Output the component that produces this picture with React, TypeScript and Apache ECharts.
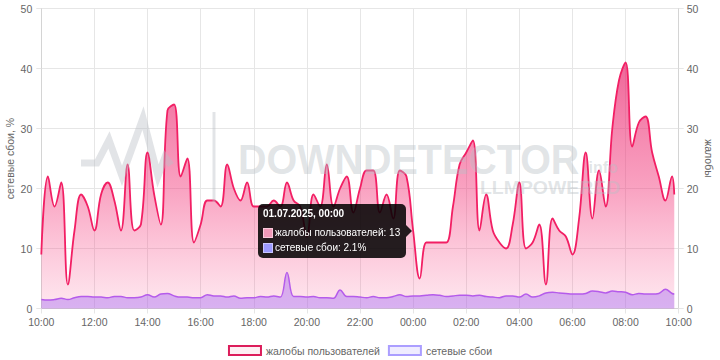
import React, { useEffect, useRef } from "react";
import * as echarts from "echarts";

// ---- data ----
const START_UTC = Date.UTC(2025, 5, 30, 10, 0); // 30.06.2025 10:00
const STEP_MINUTES = 15;
const LAST_POINT_MINUTES = 23 * 60 + 50; // 01.07.2025 09:50
const TOOLTIP_INDEX = 56; // 01.07.2025 00:00

const complaintsName = "жалобы пользователей";
const failuresName = "сетевые сбои";
const leftAxisName = "сетевые сбои, %";
const rightAxisName = "жалобы";

const xTickLabels = [
  "10:00", "12:00", "14:00", "16:00", "18:00", "20:00", "22:00",
  "00:00", "02:00", "04:00", "06:00", "08:00", "10:00",
];

const complaints = [
  9, 22, 17, 21, 4, 13, 19, 17,
  13, 19, 21, 18, 13, 24, 13, 14,
  26, 19, 14, 33, 34, 22, 25, 11,
  14, 18, 18, 17, 24, 20, 18, 21,
  17, 17, 17, 18, 17, 21, 18, 17,
  12, 19, 17, 24, 17, 20, 22, 16,
  20, 23, 23, 16, 19, 15, 23, 22,
  13, 5, 11, 11, 11, 11, 17, 24,
  26, 28, 13, 19, 13, 11, 10, 14,
  21, 10, 11, 14, 4, 15, 13, 12,
  9, 15, 26, 15, 23, 17, 30, 38,
  41, 27, 31, 32, 26, 22, 18, 22,
  19,
];

const failures = [
  1.5, 1.4, 1.5, 1.7, 1.5, 1.8, 2.0, 2.0,
  1.9, 1.9, 1.8, 2.0, 2.0, 1.8, 1.8, 1.9,
  2.3, 1.9, 2.4, 2.5, 2.1, 1.9, 1.9, 1.8,
  1.8, 2.3, 2.1, 2.1, 1.9, 2.1, 1.7, 1.8,
  1.8, 2.0, 1.9, 2.1, 1.9, 6.0, 2.0, 2.0,
  1.9, 2.0, 1.8, 1.8, 1.7, 3.1, 2.0, 2.0,
  1.9, 1.8, 2.0, 1.8, 1.8, 2.0, 2.3, 2.0,
  2.1, 2.1, 2.2, 2.3, 2.2, 2.0, 2.1, 2.2,
  2.2, 2.1, 2.2, 2.0, 1.9, 1.8, 2.1, 2.1,
  1.9, 2.4, 1.9, 2.1, 2.6, 2.7, 2.6, 2.5,
  2.4, 2.4, 2.5, 2.9, 2.8, 2.6, 2.9, 2.8,
  2.7, 2.3, 2.5, 2.4, 2.4, 2.5, 3.2, 2.5,
  2.4,
];

// ---- helpers ----
const minutes = complaints.map((_, i) =>
  i < complaints.length - 1 ? i * STEP_MINUTES : LAST_POINT_MINUTES
);
const pad = (n: number) => String(n).padStart(2, "0");
const formatStamp = (m: number) => {
  const d = new Date(START_UTC + m * 60000);
  return `${pad(d.getUTCDate())}.${pad(d.getUTCMonth() + 1)}.${d.getUTCFullYear()}, ${pad(
    d.getUTCHours()
  )}:${pad(d.getUTCMinutes())}`;
};

const FONT = "'Liberation Sans', Arial, Helvetica, sans-serif";
const GRID_COLOR = "#e6e6e6";
const AXIS_COLOR = "#d4d4d4";
const LABEL_COLOR = "#666";
const PINK = "#dc1d5b";
const PURPLE = "#a553d6";
const WM = "rgba(185,191,198,0.42)";

const tooltipHtml = (idx: number) => {
  const row = (bg: string, border: string, text: string) =>
    `<div style="display:flex;align-items:center;height:15px;line-height:15px;white-space:nowrap">` +
    `<span style="display:inline-block;box-sizing:border-box;width:10px;height:10px;background:${bg};border:1px solid ${border};margin-right:2px"></span>${text}</div>`;
  return (
    `<div style="font-weight:bold;line-height:14px;margin-bottom:4px;white-space:nowrap">${formatStamp(
      minutes[idx]
    )}</div>` +
    row("#f09ab9", "#f9c9da", `${complaintsName}: ${complaints[idx]}`) +
    row("#9c9aff", "#c9c6ff", `${failuresName}: ${failures[idx]}%`) +
    `<div style="position:absolute;right:-6px;top:50%;margin-top:-6px;width:0;height:0;border-top:6px solid transparent;border-bottom:6px solid transparent;border-left:6px solid rgba(0,0,0,0.86)"></div>`
  );
};

const buildOption = () => ({
  animation: false,
  textStyle: { fontFamily: FONT },
  grid: {
    left: 41.3,
    right: 41.3,
    top: 8.5,
    bottom: 51.5,
    containLabel: false,
    outerBoundsMode: "none",
  },
  tooltip: {
    trigger: "axis",
    triggerOn: "none",
    alwaysShowContent: true,
    transitionDuration: 0,
    axisPointer: { type: "none" },
    backgroundColor: "rgba(0,0,0,0.86)",
    borderWidth: 0,
    padding: [3, 6, 3, 5],
    textStyle: { color: "#fff", fontSize: 10, fontFamily: FONT },
    extraCssText: "border-radius:5px;box-shadow:none;",
    position: (point: number[], _p: any, _d: any, _r: any, size: any) => [
      point[0] - size.contentSize[0] - 7,
      point[1] - size.contentSize[1] / 2,
    ],
    formatter: (params: any) => {
      const p = Array.isArray(params) ? params : [params];
      return tooltipHtml(p[0].dataIndex);
    },
  },
  legend: {
    left: "center",
    top: 340,
    icon: "rect",
    itemWidth: 32,
    itemHeight: 9,
    itemGap: 8,
    textStyle: { color: LABEL_COLOR, fontSize: 10.5, fontFamily: FONT },
    data: [
      {
        name: complaintsName,
        itemStyle: { color: "rgba(223,31,92,0.07)", borderColor: PINK, borderWidth: 2 },
      },
      {
        name: failuresName,
        itemStyle: { color: "rgba(140,120,255,0.14)", borderColor: "#ab9eff", borderWidth: 2 },
      },
    ],
  },
  xAxis: {
    type: "value",
    min: 0,
    max: 1440,
    interval: 120,
    axisLine: { show: true, lineStyle: { color: AXIS_COLOR } },
    axisTick: { show: true, length: 5, lineStyle: { color: GRID_COLOR } },
    axisLabel: {
      color: LABEL_COLOR,
      fontSize: 10.5,
      margin: 8,
      formatter: (v: number) => xTickLabels[Math.round(v / 120)],
    },
    splitLine: { show: true, lineStyle: { color: GRID_COLOR } },
  },
  yAxis: [
    {
      type: "value",
      position: "left",
      min: 0,
      max: 50,
      interval: 10,
      name: leftAxisName,
      nameLocation: "middle",
      nameGap: 26,
      nameMoveOverlap: false,
      nameTextStyle: { color: LABEL_COLOR, fontSize: 10.5 },
      axisLine: { show: true, lineStyle: { color: AXIS_COLOR } },
      axisTick: { show: true, length: 5, lineStyle: { color: GRID_COLOR } },
      axisLabel: { color: LABEL_COLOR, fontSize: 10.5, margin: 9 },
      splitLine: { show: true, lineStyle: { color: GRID_COLOR } },
    },
    {
      type: "value",
      position: "right",
      min: 0,
      max: 50,
      interval: 10,
      name: rightAxisName,
      nameLocation: "middle",
      nameRotate: -90,
      nameGap: 25,
      nameMoveOverlap: false,
      nameTextStyle: { color: LABEL_COLOR, fontSize: 10.5 },
      axisLine: { show: true, lineStyle: { color: AXIS_COLOR } },
      axisTick: { show: true, length: 5, lineStyle: { color: GRID_COLOR } },
      axisLabel: { color: LABEL_COLOR, fontSize: 10.5, margin: 8 },
      splitLine: { show: false },
    },
  ],
  series: [
    {
      name: complaintsName,
      type: "line",
      yAxisIndex: 1,
      smooth: 0.4,
      showSymbol: false,
      symbol: "none",
      data: complaints.map((v, i) => [minutes[i], v]),
      lineStyle: { color: PINK, width: 1.8 },
      itemStyle: { color: PINK },
      areaStyle: {
        color: new echarts.graphic.LinearGradient(0, 0, 0, 1, [
          { offset: 0, color: "rgba(211,28,96,0.97)" },
          { offset: 0.5, color: "rgba(220,52,112,0.68)" },
          { offset: 1, color: "rgba(228,80,132,0.2)" },
        ]),
      },
      z: 2,
    },
    {
      name: failuresName,
      type: "line",
      yAxisIndex: 0,
      smooth: 0.4,
      showSymbol: false,
      symbol: "none",
      data: failures.map((v, i) => [minutes[i], v]),
      lineStyle: { color: PURPLE, width: 1.5 },
      itemStyle: { color: "#9c9aff" },
      areaStyle: { color: "rgba(148,90,220,0.58)" },
      z: 3,
    },
  ],
  graphic: [
    {
      type: "polyline",
      silent: true,
      z: 100,
      shape: {
        points: [
          [81, 163], [97, 163], [109, 140], [122, 176], [143, 118],
          [158, 176], [165, 157], [171, 165],
        ],
      },
      style: { stroke: WM, lineWidth: 7, fill: null, lineJoin: "miter" },
    },
    {
      type: "rect",
      silent: true,
      z: 100,
      shape: { x: 212.5, y: 112, width: 3, height: 90 },
      style: { fill: WM },
    },
    {
      type: "text",
      silent: true,
      z: 100,
      x: 238,
      y: 139,
      scaleX: 0.94,
      style: {
        text: "DOWNDETECTOR",
        font: `bold 42px ${FONT}`,
        fill: WM,
        verticalAlign: "top",
        textVerticalAlign: "top",
      },
    },
    {
      type: "text",
      silent: true,
      z: 100,
      x: 584,
      y: 159,
      style: {
        text: ".info",
        font: `bold 16px ${FONT}`,
        fill: WM,
        verticalAlign: "top",
        textVerticalAlign: "top",
      },
    },
    {
      type: "text",
      silent: true,
      z: 100,
      x: 480,
      y: 179,
      scaleX: 1.08,
      style: {
        text: "LLMPOWERED",
        font: `bold 18px ${FONT}`,
        fill: WM,
        verticalAlign: "top",
        textVerticalAlign: "top",
      },
    },
  ],
});

export default function App() {
  const ref = useRef<HTMLDivElement>(null);
  useEffect(() => {
    if (!ref.current) return;
    const chart = echarts.init(ref.current, null, { renderer: "svg" });
    chart.setOption(buildOption() as any);
    chart.dispatchAction({ type: "showTip", seriesIndex: 0, dataIndex: TOOLTIP_INDEX });
    return () => chart.dispose();
  }, []);
  return (
    <div
      ref={ref}
      style={{ position: "absolute", left: 0, top: 0, width: 720, height: 360, background: "#fff" }}
    />
  );
}
